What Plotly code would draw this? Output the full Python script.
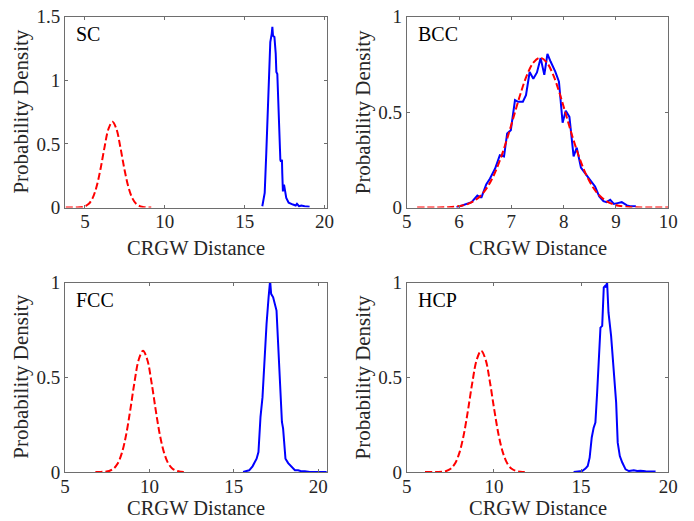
import plotly.graph_objects as go

# ---------------- data ----------------
panel_names = ["SC", "BCC", "FCC", "HCP"]

sc_red_x = [3.8, 4.2, 4.47, 4.72, 4.97, 5.22, 5.47, 5.72, 5.97, 6.22, 6.47, 6.72,
            6.97, 7.22, 7.47, 7.72, 7.97, 8.22, 8.47, 8.72, 8.97, 9.15]
sc_red_y = [0.0, 0.0, 0.0005, 0.0022, 0.0083, 0.0267, 0.0717, 0.161, 0.301, 0.471, 0.617, 0.675,
            0.617, 0.471, 0.301, 0.161, 0.0717, 0.0267, 0.0083, 0.0022, 0.0005, 0.0]
sc_blue_x = [16.1, 16.25, 16.35, 16.48, 16.6, 16.69, 16.73, 16.77, 16.86, 16.94, 16.98, 17.04,
             17.14, 17.23, 17.27, 17.33, 17.35, 17.39, 17.46, 17.52, 17.6, 17.75, 17.86, 18.02,
             18.19, 18.27, 18.4, 18.54, 18.75, 18.96, 19.06]
sc_blue_y = [0.01, 0.115, 0.43, 0.9, 1.30, 1.365, 1.42, 1.35, 1.34, 1.21, 1.065, 1.05,
             0.635, 0.375, 0.36, 0.375, 0.27, 0.127, 0.18, 0.115, 0.076, 0.037, 0.03, 0.023,
             0.016, 0.029, 0.01, 0.016, 0.01, 0.01, 0.005]

bcc_red_x = [5.2, 5.55, 5.8, 6.05, 6.175, 6.3, 6.425, 6.55, 6.675, 6.8, 6.925, 7.05, 7.175, 7.3,
             7.425, 7.55, 7.675, 7.8, 7.925, 8.05, 8.175, 8.3, 8.425, 8.55, 8.675, 8.8, 8.925,
             9.05, 9.3, 9.55, 10.0]
bcc_red_y = [0.0, 0.0003, 0.0019, 0.0095, 0.0193, 0.0366, 0.0656, 0.1105, 0.175, 0.261, 0.365,
             0.481, 0.596, 0.695, 0.761, 0.785, 0.761, 0.695, 0.596, 0.481, 0.365, 0.261, 0.175,
             0.1105, 0.0656, 0.0366, 0.0193, 0.0095, 0.0019, 0.0003, 0.0]
bcc_blue_x = [5.95, 6.02, 6.15, 6.24, 6.35, 6.40, 6.43, 6.52, 6.59, 6.69, 6.78, 6.86, 6.92, 6.99,
              7.07, 7.13, 7.22, 7.28, 7.35, 7.42, 7.49, 7.56, 7.63, 7.69, 7.75, 7.84, 7.91, 7.98,
              8.04, 8.11, 8.19, 8.25, 8.33, 8.41, 8.50, 8.60, 8.68, 8.76, 8.82, 8.89, 8.96, 9.03,
              9.11, 9.21, 9.27, 9.38]
bcc_blue_y = [0.0, 0.007, 0.016, 0.028, 0.063, 0.054, 0.054, 0.121, 0.151, 0.204, 0.274, 0.268,
              0.388, 0.405, 0.563, 0.554, 0.554, 0.589, 0.71, 0.675, 0.708, 0.783, 0.695, 0.805,
              0.765, 0.712, 0.659, 0.444, 0.507, 0.475, 0.268, 0.314, 0.209, 0.177, 0.146, 0.11,
              0.058, 0.033, 0.028, 0.040, 0.019, 0.023, 0.028, 0.011, 0.007, 0.007]

fcc_red_x = [6.8, 7.12, 7.37, 7.62, 7.87, 8.12, 8.37, 8.62, 8.87, 9.12, 9.37, 9.62, 9.87, 10.12,
             10.37, 10.62, 10.87, 11.12, 11.37, 11.62, 11.87, 12.12]
fcc_red_y = [0.0, 0.0004, 0.0016, 0.0056, 0.0171, 0.0447, 0.101, 0.196, 0.329, 0.476, 0.594, 0.64,
             0.594, 0.476, 0.329, 0.196, 0.101, 0.0447, 0.0171, 0.0056, 0.0016, 0.0004]
fcc_blue_x = [15.55, 15.91, 16.11, 16.35, 16.46, 16.58, 16.70, 16.82, 16.94, 17.06, 17.15, 17.21,
              17.33, 17.53, 17.69, 17.85, 17.92, 18.06, 18.22, 18.42, 18.62, 18.81, 18.95, 19.21,
              19.5, 20.0, 20.5]
fcc_blue_y = [0.0, 0.009, 0.03, 0.07, 0.105, 0.29, 0.395, 0.606, 0.782, 0.922, 1.01, 0.94,
              0.922, 0.852, 0.536, 0.264, 0.229, 0.07, 0.047, 0.026, 0.009, 0.009, 0.005, 0.004,
              0.0, 0.0, 0.0]

hcp_red_x = [6.05, 6.52, 6.77, 7.02, 7.27, 7.52, 7.77, 8.02, 8.27, 8.52, 8.77, 9.02, 9.27, 9.52,
             9.77, 10.02, 10.27, 10.52, 10.77, 11.02, 11.27, 11.52, 11.77]
hcp_red_y = [0.0, 0.0, 0.0004, 0.0016, 0.0056, 0.0171, 0.0447, 0.101, 0.196, 0.329, 0.476, 0.594,
             0.64, 0.594, 0.476, 0.329, 0.196, 0.101, 0.0447, 0.0171, 0.0056, 0.0016, 0.0004]
hcp_blue_x = [14.57, 15.06, 15.25, 15.38, 15.49, 15.61, 15.72, 15.82, 15.92, 16.03, 16.11, 16.21,
              16.30, 16.38, 16.44, 16.49, 16.57, 16.72, 16.87, 17.01, 17.10, 17.22, 17.36, 17.55,
              17.74, 18.02, 18.22, 18.41, 18.70, 18.98, 19.27]
hcp_blue_y = [0.0, 0.005, 0.018, 0.032, 0.076, 0.182, 0.234, 0.261, 0.419, 0.63, 0.762, 0.771,
              0.974, 0.982, 0.974, 1.003, 0.842, 0.718, 0.525, 0.366, 0.155, 0.084, 0.05, 0.014,
              0.005, 0.009, 0.005, 0.007, 0.004, 0.004, 0.002]

x_ranges = [[3.75, 20.15], [5, 10], [5, 20.52], [5, 20]]
y_ranges = [[0, 1.5], [0, 1], [0, 1], [0, 1]]
x_ticks = [[5, 10, 15, 20], [5, 6, 7, 8, 9, 10], [5, 10, 15, 20], [5, 10, 15, 20]]
y_ticks = [[0, 0.5, 1, 1.5], [0, 0.5, 1], [0, 0.5, 1], [0, 0.5, 1]]
x_title = "CRGW Distance"
y_title = "Probability Density"

# ---------------- layout geometry ----------------
W, H = 694, 521
cols = [(65, 327), (406.7, 668.3)]
rows = [(16.7, 207.5), (282.5, 472.0)]
FONT = "Liberation Serif"
TXT = "#262626"
AX = "#6e6e6e"

fig = go.Figure()
reds = [(sc_red_x, sc_red_y), (bcc_red_x, bcc_red_y), (fcc_red_x, fcc_red_y), (hcp_red_x, hcp_red_y)]
blues = [(sc_blue_x, sc_blue_y), (bcc_blue_x, bcc_blue_y), (fcc_blue_x, fcc_blue_y), (hcp_blue_x, hcp_blue_y)]

annotations = []
for i in range(4):
    r, c = divmod(i, 2)
    sfx = "" if i == 0 else str(i + 1)
    xa, ya = "x" + sfx, "y" + sfx
    fig.add_trace(go.Scatter(x=blues[i][0], y=blues[i][1], mode="lines",
                             line=dict(color="#0000ff", width=2), xaxis=xa, yaxis=ya,
                             showlegend=False))
    fig.add_trace(go.Scatter(x=reds[i][0], y=reds[i][1], mode="lines",
                             line=dict(color="#ff0000", width=2, dash="7px,3px", shape="spline"),
                             xaxis=xa, yaxis=ya, showlegend=False))
    x0, x1 = cols[c]
    t, b = rows[r]
    common = dict(showline=True, linecolor=AX, linewidth=1, mirror="ticks", ticks="inside",
                  ticklen=3, tickcolor=AX, showgrid=False, zeroline=False,
                  tickfont=dict(family=FONT, size=19, color=TXT), automargin=False)
    fig.update_layout(**{
        "xaxis" + sfx: dict(domain=[x0 / W, x1 / W], range=x_ranges[i], tickvals=x_ticks[i],
                            anchor=ya, ticklabelstandoff=-3, **common),
        "yaxis" + sfx: dict(domain=[1 - b / H, 1 - t / H], range=y_ranges[i], tickvals=y_ticks[i],
                            anchor=xa, **common),
    })
    # panel label
    annotations.append(dict(text=panel_names[i], xref="paper", yref="paper",
                            x=(x0 + 9) / W, y=1 - (t + 17.5) / H, xanchor="left", yanchor="middle",
                            showarrow=False, font=dict(family=FONT, size=20, color="#000000")))
    # x title
    if r == 0:
        annotations.append(dict(text=x_title, xref="paper", yref="paper",
                                x=(x0 + x1) / 2 / W, y=1 - (b + 40) / H, xanchor="center",
                                yanchor="middle", showarrow=False,
                                font=dict(family=FONT, size=20.5, color=TXT)))
    else:
        annotations.append(dict(text=x_title, xref="paper", yref="paper",
                                x=(x0 + x1) / 2 / W, y=0, xanchor="center",
                                yanchor="bottom", showarrow=False,
                                font=dict(family=FONT, size=20.5, color=TXT)))
    # y title
    annotations.append(dict(text=y_title, xref="paper", yref="paper", textangle=-90,
                            x=(x0 - 43.5) / W, y=1 - (t + b) / 2 / H, xanchor="center", yanchor="middle",
                            showarrow=False, font=dict(family=FONT, size=21, color=TXT)))

fig.update_layout(width=W, height=H, margin=dict(l=0, r=0, t=0, b=0),
                  paper_bgcolor="white", plot_bgcolor="white", annotations=annotations)
fig.write_html("out.html")
